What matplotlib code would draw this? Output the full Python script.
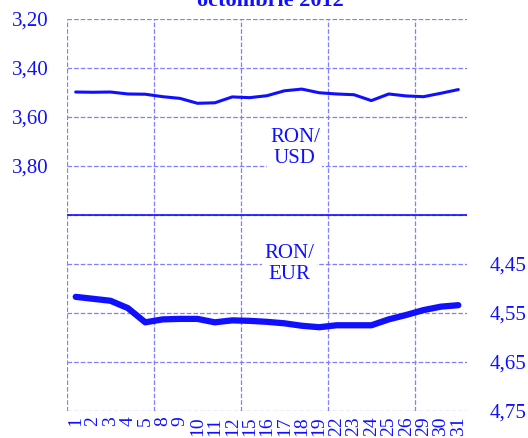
import matplotlib.pyplot as plt
import numpy as np

plt.rcParams['font.family'] = ['Liberation Serif', 'DejaVu Serif']

days = ['1', '2', '3', '4', '5', '8', '9', '10', '11', '12', '15', '16',
        '17', '18', '19', '22', '23', '24', '25', '26', '29', '30', '31']
ron_usd = [3.498, 3.499, 3.498, 3.506, 3.507, 3.517, 3.524, 3.544, 3.542,
           3.518, 3.521, 3.513, 3.493, 3.486, 3.501, 3.506, 3.509, 3.533,
           3.506, 3.514, 3.517, 3.503, 3.488]
ron_eur = [4.517, 4.521, 4.525, 4.540, 4.569, 4.563, 4.562, 4.562, 4.569,
           4.565, 4.566, 4.568, 4.571, 4.576, 4.579, 4.575, 4.575, 4.575,
           4.563, 4.554, 4.544, 4.537, 4.534]
usd_ticks = [3.20, 3.40, 3.60, 3.80, 4.00, 4.20, 4.40, 4.60, 4.80]
eur_ticks = [4.45, 4.55, 4.65, 4.75]

blue = '#1010ff'
grid_blue = '#7f7fff'

fig = plt.figure(figsize=(5.28, 4.38), dpi=100)
ax = fig.add_axes([0.1269, 0.0616, 0.7576, 0.895])
ax2 = ax.twinx()

x = np.arange(len(days)) + 0.5

# upper panel: RON/USD on the left axis (inverted)
ax.plot(x, ron_usd, color=blue, lw=2.2, solid_joinstyle='round',
        solid_capstyle='round', zorder=3)
ax.set_ylim(4.80, 3.20)
ax.set_yticks(usd_ticks)
ax.set_yticklabels([('%.2f' % v).replace('.', ',') if v < 3.9 else ''
                    for v in usd_ticks])
ax.axhline(4.00, color=blue, lw=1.2, zorder=2)

# lower panel: RON/EUR on the right axis (inverted)
ax2.plot(x, ron_eur, color=blue, lw=4.5, solid_joinstyle='round',
         solid_capstyle='round', zorder=3)
ax2.set_ylim(4.75, 3.95)
ax2.set_yticks(eur_ticks)
ax2.set_yticklabels([('%.2f' % v).replace('.', ',') for v in eur_ticks])

ax.set_xlim(0, len(days))
ax.set_xticks(x)
ax.set_xticklabels(days, rotation=90)
ax.set_xticks([0, 5, 10, 15, 20], minor=True)

ax.grid(True, axis='y', which='major', color=grid_blue, ls='--', lw=0.9)
ax.grid(True, axis='x', which='minor', color=grid_blue, ls='--', lw=0.9)

for a in (ax, ax2):
    for s in a.spines.values():
        s.set_visible(False)
ax.tick_params(axis='y', length=0, pad=13, labelsize=15, labelcolor=blue)
ax.tick_params(axis='x', which='both', length=0, pad=4, labelsize=14,
               labelcolor=blue)
ax2.tick_params(axis='y', length=0, pad=16, labelsize=15, labelcolor=blue)

ax.text(13.1, 3.727, 'RON/\nUSD', color=blue, fontsize=15, ha='center',
        va='center', linespacing=1.15, zorder=4,
        bbox=dict(facecolor='white', edgecolor='none', pad=2))
ax.text(12.8, 4.20, 'RON/\nEUR', color=blue, fontsize=15, ha='center',
        va='center', linespacing=1.15, zorder=4,
        bbox=dict(facecolor='white', edgecolor='none', pad=2))

fig.text(270 / 528, 1 - 6 / 438, 'octombrie 2012', color=blue, fontsize=16,
         fontweight='bold', ha='center', va='baseline')

fig.savefig('out.png', dpi=100)
